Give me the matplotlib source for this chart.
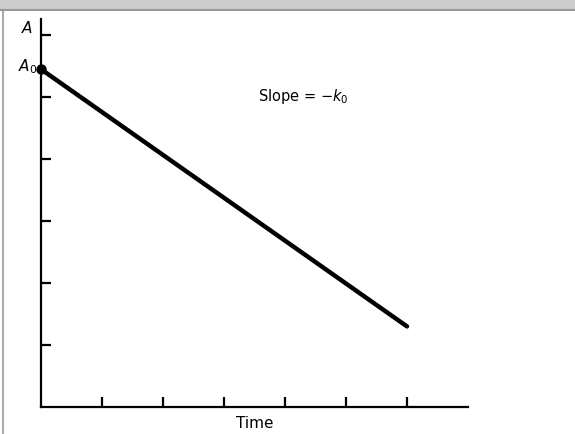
"""Zero-order decay sketch: A versus time with slope -k0."""

import matplotlib

matplotlib.use("Agg")
import matplotlib.pyplot as plt
from matplotlib.lines import Line2D
from matplotlib.patches import Rectangle

# Data (axis units = one tick spacing)
x_ticks = [1, 2, 3, 4, 5, 6]
y_ticks = [1, 2, 3, 4, 5, 6]
line_t = [0, 6]
line_a = [5.45, 1.3]
a0_value = 5.45

fig = plt.figure(figsize=(5.75, 4.35), dpi=100)

# Gray header strip and left frame line
fig.patches.append(Rectangle((0, 1 - 10 / 435), 1, 10 / 435, transform=fig.transFigure,
                             facecolor="#cccccc", edgecolor="none", zorder=0))
fig.lines.append(Line2D([0, 1], [1 - 10.5 / 435] * 2, transform=fig.transFigure,
                        color="#999999", linewidth=1.5))
fig.lines.append(Line2D([2.5 / 575] * 2, [0, 1 - 10.5 / 435], transform=fig.transFigure,
                        color="#999999", linewidth=1.2))

ax = fig.add_axes([41 / 575, 27 / 435, 427 / 575, 388 / 435])
ax.set_xlim(0, 7.0)
ax.set_ylim(0, 6.26)

# Main line and A0 dot
ax.plot(line_t, line_a, color="black", linewidth=3.2, solid_capstyle="round", clip_on=False)
ax.plot([0], [a0_value], "o", color="black", markersize=6.5, clip_on=False, zorder=5)

for side in ("top", "right"):
    ax.spines[side].set_visible(False)
for side in ("left", "bottom"):
    ax.spines[side].set_linewidth(1.6)

ax.set_xticks(x_ticks)
ax.set_yticks(y_ticks)
ax.tick_params(direction="in", length=7.5, width=1.6, labelbottom=False, labelleft=False)

ax.text(3.56, 5.02, r"Slope = $-k_0$", fontsize=10.5, ha="left", va="center")
ax.text(-0.13, 6.13, r"$A$", fontsize=11, ha="right", va="center")
ax.text(-0.06, a0_value + 0.05, r"$A_0$", fontsize=11, ha="right", va="center")
ax.set_xlabel("Time", fontsize=11, labelpad=6)

plt.savefig("out.png", dpi=100)
plt.close()
